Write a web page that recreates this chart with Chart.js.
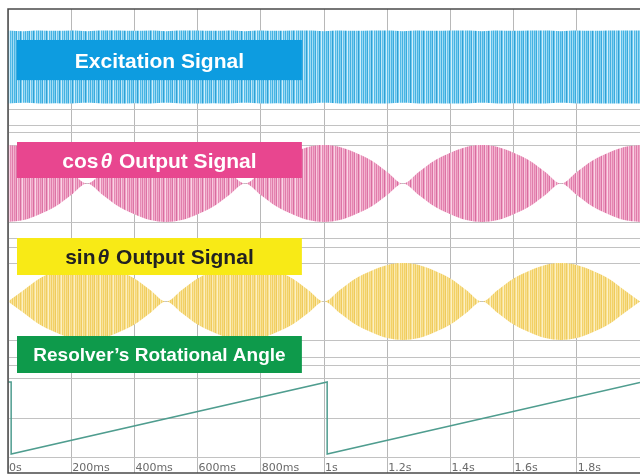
<!DOCTYPE html>
<html>
<head>
    <title>Resolver Signals</title>
    <script src="https://cdn.jsdelivr.net/npm/chart.js"></script>
    <meta charset="UTF-8" />
    <style>
  html, body {
    margin: 0;
    padding: 0;
    background: #fff;
    overflow: hidden;
  }
  canvas { display: block; }
</style>
</head>
<body>
<canvas id="scope" width="640" height="475"></canvas>
<script>
// sample times (s) for the envelopes
const times = [0, 0.05, 0.1, 0.15, 0.2, 0.25, 0.3, 0.35, 0.4, 0.45,
               0.5, 0.55, 0.6, 0.65, 0.7, 0.75, 0.8, 0.85, 0.9, 0.95,
               1.0, 1.05, 1.1, 1.15, 1.2, 1.25, 1.3, 1.35, 1.4, 1.45,
               1.5, 1.55, 1.6, 1.65, 1.7, 1.75, 1.8, 1.85, 1.9, 1.95, 2.0];
// carrier envelope amplitude (1 = full swing)
const excitationAmp = [1.0, 0.98, 1.0, 0.99, 1.0, 0.98, 1.0, 1.0, 0.99, 1.0,
                       0.98, 1.0, 1.0, 0.99, 1.0, 0.98, 1.0, 0.99, 1.0, 1.0,
                       0.98, 1.0, 0.99, 1.0, 1.0, 0.98, 1.0, 0.99, 1.0, 1.0,
                       0.98, 1.0, 0.99, 1.0, 1.0, 0.98, 1.0, 0.99, 1.0, 1.0, 1.0];
const cosAmp = [1.0, 0.95, 0.8, 0.6, 0.3, 0.0, 0.3, 0.6, 0.8, 0.95,
                1.0, 0.95, 0.8, 0.6, 0.3, 0.0, 0.3, 0.6, 0.8, 0.95,
                1.0, 0.95, 0.8, 0.6, 0.3, 0.0, 0.3, 0.6, 0.8, 0.95,
                1.0, 0.95, 0.8, 0.6, 0.3, 0.0, 0.3, 0.6, 0.8, 0.95, 1.0];
const sinAmp = [0.0, 0.3, 0.6, 0.8, 0.95, 1.0, 0.95, 0.8, 0.6, 0.3,
                0.0, 0.3, 0.6, 0.8, 0.95, 1.0, 0.95, 0.8, 0.6, 0.3,
                0.0, 0.3, 0.6, 0.8, 0.95, 1.0, 0.95, 0.8, 0.6, 0.3,
                0.0, 0.3, 0.6, 0.8, 0.95, 1.0, 0.95, 0.8, 0.6, 0.3, 0.0];
// rotational angle sawtooth (deg)
const rampTimes = [0, 0.01, 0.01, 1.01, 1.01, 2.0];
const rampAngle = [360, 360, 0, 360, 0, 357];
const tickValues = [0, 0.2, 0.4, 0.6, 0.8, 1.0, 1.2, 1.4, 1.6, 1.8, 2.0];
const tickLabels = ['0s', '200ms', '400ms', '600ms', '800ms', '1s', '1.2s', '1.4s', '1.6s', '1.8s', ''];
const panelNames = ['Excitation Signal', 'cos\u03b8 Output Signal', 'sin\u03b8 Output Signal', 'Resolver\u2019s Rotational Angle'];

const canvas = document.getElementById('scope');
const ctx = canvas.getContext('2d');

// vertical stripes to look like the dense carrier
function stripes(colors) {
    const c = document.createElement('canvas');
    c.width = colors.length;
    c.height = 4;
    const g = c.getContext('2d');
    colors.forEach((col, i) => { g.fillStyle = col; g.fillRect(i, 0, 1, 4); });
    return ctx.createPattern(c, 'repeat');
}
const bluePat = stripes(['#a6ddf5', '#4ab6e4', '#7ccff1', '#3aa9dc', '#c2e8f8', '#62c2ec', '#8fd5f3',
                         '#2f9fd3', '#6ec9ef', '#d2eefa', '#52bbe8', '#9ad9f4', '#44b1e0']);
const pinkPat = stripes(['#f4b5d1', '#e585b0', '#eea3c5', '#dc73a5', '#f8c9de', '#e994bb', '#f0a9c9',
                         '#d96c9f', '#efa6c7', '#fad4e5', '#e58bb4', '#f2b0ce', '#e07cab']);
const yellowPat = stripes(['#f9e4a0', '#f2d266', '#f7dd8a', '#efca5c', '#fbebb6', '#f4d776', '#f7df90',
                           '#f0cd62', '#f8e195', '#fcf0c4', '#f3d36c', '#f9e39c', '#f1cf64']);

// one stacked y axis per channel, laid out from its pixel band
function panelScale(top, bottom, zero, ppu, grid) {
    return {
        type: 'linear',
        position: 'left',
        stack: 'scope',
        stackWeight: bottom - top,
        min: -(bottom - zero) / ppu,
        max: (zero - top) / ppu,
        ticks: { display: false },
        border: { display: false },
        grid: { color: '#c2c2c2', drawTicks: false },
        afterFit: s => { s.width = 0; },
        afterBuildTicks: s => { s.ticks = grid.map(p => ({ value: (zero - p) / ppu })); }
    };
}

function band(amp, axis, pattern) {
    return [{
        data: times.map((t, i) => ({ x: t, y: amp[i] })),
        yAxisID: axis, borderWidth: 0, borderColor: 'transparent', pointRadius: 0, fill: false,
        cubicInterpolationMode: 'monotone'
    }, {
        data: times.map((t, i) => ({ x: t, y: -amp[i] })),
        yAxisID: axis, borderWidth: 0, borderColor: 'transparent', pointRadius: 0,
        fill: '-1', backgroundColor: pattern, cubicInterpolationMode: 'monotone'
    }];
}

const labelBoxes = [
    { axis: 'yExc', hi: 0.74, lo: -0.36, bg: '#0d9ce0', fg: '#ffffff', size: 21 },
    { axis: 'yCos', hi: 1.078, lo: 0.143, bg: '#e8468f', fg: '#ffffff', size: 21 },
    { axis: 'ySin', hi: 1.649, lo: 0.688, bg: '#f8ea16', fg: '#222222', size: 21 },
    { axis: 'yRamp', hi: 590, lo: 405, bg: '#0e9a4b', fg: '#ffffff', size: 19 }
];

const scopeDecor = {
    id: 'scopeDecor',
    afterDatasetsDraw(chart) {
        const c = chart.ctx;
        const x = chart.scales.x;
        const area = chart.chartArea;
        c.save();
        // channel name boxes
        labelBoxes.forEach((b, i) => {
            const y = chart.scales[b.axis];
            const x0 = x.getPixelForValue(0.0285), x1 = x.getPixelForValue(0.93);
            const y0 = y.getPixelForValue(b.hi), y1 = y.getPixelForValue(b.lo);
            c.fillStyle = b.bg;
            c.fillRect(x0, y0, x1 - x0, y1 - y0);
            const plain = 'bold ' + b.size + 'px "Liberation Sans", Arial, sans-serif';
            const ital = 'italic bold ' + b.size + 'px "Liberation Sans", Arial, sans-serif';
            const parts = panelNames[i].split(/(\u03b8)/).filter(p => p);
            let w = 0;
            parts.forEach(p => { c.font = p === '\u03b8' ? ital : plain; w += c.measureText(p).width + (p === '\u03b8' ? 3 : 0); });
            let tx = (x0 + x1) / 2 - w / 2;
            const ty = (y0 + y1) / 2 + b.size * 0.36;
            c.fillStyle = b.fg;
            c.textBaseline = 'alphabetic';
            c.textAlign = 'left';
            parts.forEach(p => {
                c.font = p === '\u03b8' ? ital : plain;
                if (p === '\u03b8') tx += 2;
                c.fillText(p, tx, ty);
                tx += c.measureText(p).width + (p === '\u03b8' ? 1 : 0);
            });
        });
        // time labels inside the bottom of the screen
        c.font = '11px "DejaVu Sans", Verdana, sans-serif';
        c.fillStyle = '#6a6a6a';
        tickValues.forEach((v, i) => {
            c.fillText(tickLabels[i], x.getPixelForValue(v) + 1, area.bottom - 2);
        });
        // frame
        c.strokeStyle = '#4a4a4a';
        c.lineWidth = 1.5;
        c.beginPath();
        c.moveTo(area.right, area.top);
        c.lineTo(area.left, area.top);
        c.lineTo(area.left, area.bottom);
        c.lineTo(area.right, area.bottom);
        c.stroke();
        c.restore();
    }
};

new Chart(ctx, {
    type: 'line',
    data: {
        datasets: [
            ...band(excitationAmp, 'yExc', bluePat),
            ...band(cosAmp, 'yCos', pinkPat),
            ...band(sinAmp, 'ySin', yellowPat),
            {
                data: rampTimes.map((t, i) => ({ x: t, y: rampAngle[i] })),
                yAxisID: 'yRamp', borderColor: '#4f9d8f', borderWidth: 1.5,
                pointRadius: 0, tension: 0, cubicInterpolationMode: 'default', fill: false
            }
        ]
    },
    options: {
        responsive: false,
        devicePixelRatio: 1,
        animation: false,
        layout: { padding: { left: 8, top: 9, right: 0, bottom: 2 } },
        plugins: { legend: { display: false }, tooltip: { enabled: false } },
        scales: {
            x: {
                type: 'linear', min: 0, max: 2,
                ticks: { display: false },
                border: { display: false },
                grid: { color: '#b8b8b8', drawTicks: false },
                afterFit: s => { s.height = 0; },
                afterBuildTicks: s => { s.ticks = tickValues.map(v => ({ value: v })); }
            },
            // defined bottom to top: later stacked axes sit higher
            yRamp: panelScale(361, 473, 454, 0.2, [365, 378, 418, 457]),
            ySin: panelScale(242, 361, 301.5, 38.5, [247, 263, 301.5, 340, 357]),
            yCos: panelScale(129, 242, 183.5, 38.5, [133, 145, 183.5, 222, 238]),
            yExc: panelScale(9, 129, 67, 36.5, [67, 109, 125])
        }
    },
    plugins: [scopeDecor]
});
</script>
</body>
</html>
